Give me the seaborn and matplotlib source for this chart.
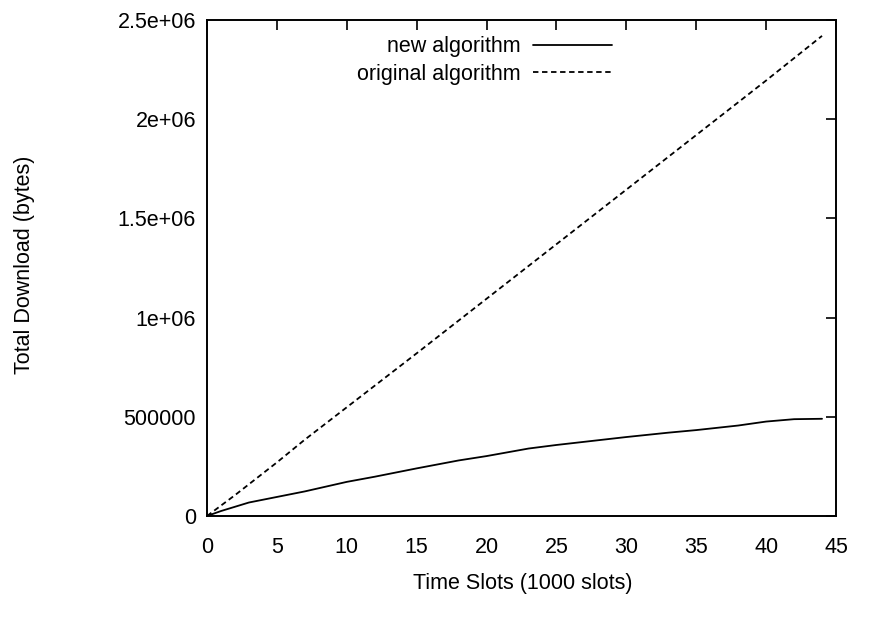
import matplotlib
matplotlib.use("Agg")
import matplotlib.pyplot as plt
import seaborn as sns
import pandas as pd
from matplotlib.ticker import FixedLocator, FixedFormatter

# Data
new_x = [0, 1, 3, 5, 7, 10, 12, 15, 18, 20, 23, 25, 28, 30, 33, 35, 38, 40, 42, 44]
new_y = [0, 25000, 68000, 96000, 124000, 172000, 198000, 240000, 280000, 302000,
         340000, 358000, 382000, 398000, 420000, 433000, 456000, 476000, 488000, 490000]

orig_x = [0, 2, 5, 7, 10, 15, 20, 25, 30, 35, 40, 44]
orig_y = [0, 105000, 270000, 385000, 548000, 820000, 1095000, 1370000, 1645000,
          1920000, 2195000, 2420000]

series_names = ["new algorithm", "original algorithm"]
x_ticks = [0, 5, 10, 15, 20, 25, 30, 35, 40, 45]
y_ticks = [0, 500000, 1000000, 1500000, 2000000, 2500000]
y_tick_labels = ["0", "500000", "1e+06", "1.5e+06", "2e+06", "2.5e+06"]

df = pd.concat([
    pd.DataFrame({"x": new_x, "y": new_y, "series": series_names[0]}),
    pd.DataFrame({"x": orig_x, "y": orig_y, "series": series_names[1]}),
])

sns.set_theme(style="white")
plt.rcParams["font.family"] = ["Liberation Sans", "DejaVu Sans"]
plt.rcParams["text.color"] = "black"
plt.rcParams["axes.labelcolor"] = "black"

fig = plt.figure(figsize=(8.77, 6.29), dpi=100)
ax = fig.add_axes([207 / 877, 1 - 516 / 629, (836 - 207) / 877, (516 - 20) / 629])

sns.lineplot(data=df, x="x", y="y", hue="series", style="series",
             hue_order=series_names, style_order=series_names,
             palette={series_names[0]: "black", series_names[1]: "black"},
             dashes={series_names[0]: "", series_names[1]: (3, 2)},
             linewidth=1.3, ax=ax, legend=True, sort=False)

ax.set_xlim(0, 45)
ax.set_ylim(0, 2500000)
ax.xaxis.set_major_locator(FixedLocator(x_ticks))
ax.yaxis.set_major_locator(FixedLocator(y_ticks))
ax.yaxis.set_major_formatter(FixedFormatter(y_tick_labels))
ax.tick_params(axis="both", which="major", direction="in", length=7, width=1.2,
               top=True, right=True, labelsize=15.5, colors="black")
ax.tick_params(axis="x", pad=15)
ax.tick_params(axis="y", pad=8)
for s in ax.spines.values():
    s.set_visible(True)
    s.set_color("black")
    s.set_linewidth(1.4)

ax.set_xlabel("Time Slots (1000 slots)", fontsize=15.5)
ax.set_ylabel("Total Download (bytes)", fontsize=15.5)
ax.xaxis.set_label_coords(0.502, -0.115)
ax.yaxis.set_label_coords(-0.274, 0.506)

handles, labels = ax.get_legend_handles_labels()
leg = ax.legend(handles, labels, loc="upper right", bbox_to_anchor=(0.665, 0.993),
                frameon=False, markerfirst=False, fontsize=15.5, handlelength=3.7,
                handletextpad=0.55, labelspacing=0.3, borderaxespad=0.2)
for t in leg.get_texts():
    t.set_ha("right")
leg._legend_box.align = "right"

fig.savefig("out.png", dpi=100)
